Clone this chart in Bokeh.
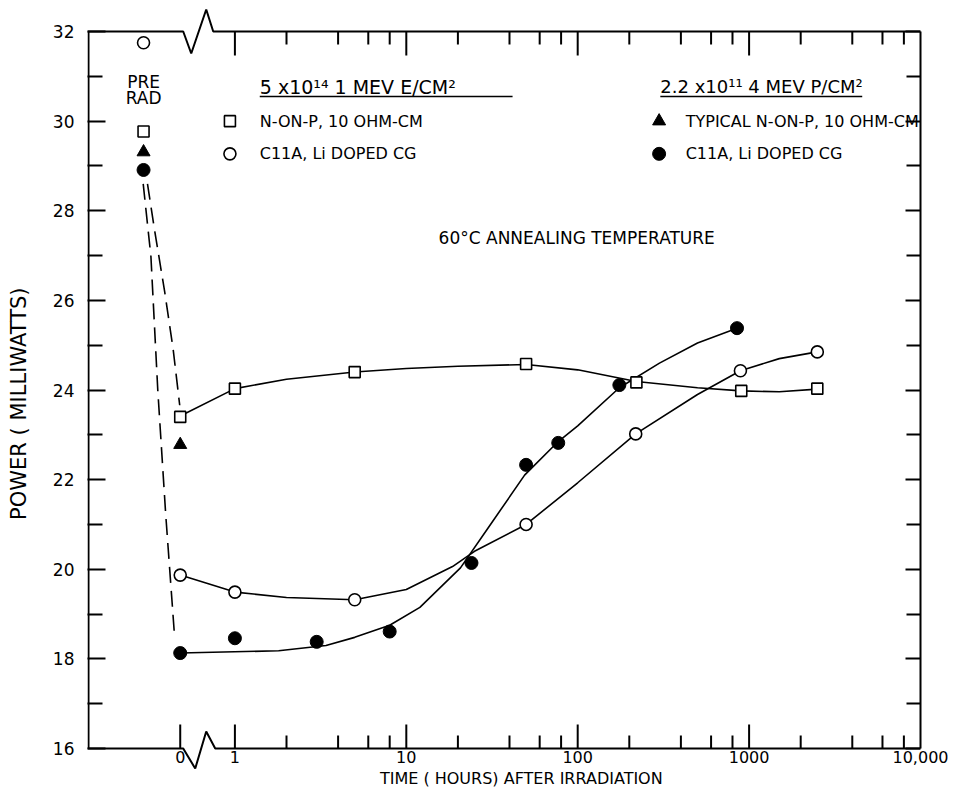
import math
from bokeh.plotting import figure
from bokeh.models import Range1d, FixedTicker, LinearAxis, AllLabels
from bokeh.core.properties import value
from bokeh.embed import file_html
from bokeh.resources import INLINE

# ---------------- data ----------------
# 5x10^14 1 MeV e/cm^2 : N-on-P, 10 ohm-cm (open squares)
sq_time = [0, 1, 5, 50, 220, 900, 2500]
sq_power = [23.40, 24.03, 24.40, 24.58, 24.17, 23.98, 24.03]
sq_pre = 29.77
# 5x10^14 1 MeV e/cm^2 : C11A, Li doped CG (open circles)
oc_time = [0, 1, 5, 50, 218, 890, 2500]
oc_power = [19.87, 19.49, 19.32, 21.00, 23.02, 24.43, 24.85]
oc_pre = 31.75
# 2.2x10^11 4 MeV p/cm^2 : typical N-on-P (filled triangle)
tr_time = [0]
tr_power = [22.78]
tr_pre = 29.31
# 2.2x10^11 4 MeV p/cm^2 : C11A, Li doped CG (filled circles)
fc_time = [0, 1, 3, 8, 24, 50, 77, 175, 850]
fc_power = [18.13, 18.46, 18.38, 18.61, 20.14, 22.33, 22.82, 24.11, 25.38]
fc_pre = 28.91

# hand-drawn fitted curves (time h, power mW)
sq_curve_t = [0, 1, 2, 5, 10, 20, 50, 100, 220, 500, 900, 1500, 2500]
sq_curve_p = [23.42, 24.03, 24.24, 24.40, 24.48, 24.53, 24.57, 24.45, 24.19, 24.05, 23.98, 23.96, 24.02]
oc_curve_t = [0, 1, 2, 5, 10, 18.6, 25, 50, 100, 218, 500, 890, 1500, 2500]
oc_curve_p = [19.87, 19.49, 19.37, 19.32, 19.55, 20.06, 20.40, 21.00, 21.93, 23.02, 23.90, 24.43, 24.70, 24.85]
fc_curve_t = [0, 1.8, 3.4, 5, 8, 12, 20.7, 30, 49, 77, 100, 175, 300, 500, 850]
fc_curve_p = [18.13, 18.18, 18.30, 18.48, 18.75, 19.15, 20.03, 20.92, 22.10, 22.85, 23.20, 24.05, 24.60, 25.05, 25.38]

# dashed pre-rad -> 0 h traces (axis position, power)
dash_a_x = [-0.51, -0.47, -0.41, -0.36, -0.322]
dash_a_y = [28.60, 27.60, 26.20, 24.90, 23.66]
dash_b_x = [-0.535, -0.49, -0.45, -0.404, -0.352]
dash_b_y = [28.60, 26.98, 24.00, 21.24, 18.50]

# axis ticks
y_major = [16, 18, 20, 22, 24, 26, 28, 30, 32]
y_minor = [17, 19, 21, 23, 25, 27, 29, 31]
x_decades = [1, 10, 100, 1000]
x_minor = [2, 4, 6, 8, 20, 40, 60, 80, 200, 400, 600, 800, 2000, 4000, 6000, 8000]
x_labels = ["0", "1", "10", "100", "1000", "10,000"]

# ---------------- layout ----------------
ZERO_POS = -0.319     # axis position of t = 0 (left of break)
PRE_POS = -0.533      # axis position of the pre-rad points
FRAME_L, FRAME_R = 87, 920          # px in figure
VIS_T, VIS_B = 31, 748              # px in figure (32 mW and 16 mW)
EXT_T, EXT_B = 6, 787               # bokeh frame top / bottom px
W, H = 950, 787
UNIT = (VIS_B - VIS_T) / 16.0       # px per mW
XL, XR = -0.86, 4.0
DEC = (FRAME_R - FRAME_L) / (XR - XL)
YT = 32 + (VIS_T - EXT_T) / UNIT
YB = 16 - (EXT_B - VIS_B) / UNIT
FONT = value("DejaVu Sans")
INK = "black"


def xpos(t):
    return ZERO_POS if t == 0 else math.log10(t)


def dx(px):
    return px / DEC


def dy(px):
    return px / UNIT


p = figure(width=W, height=H, x_range=Range1d(XL, XR), y_range=Range1d(YB, YT),
           output_backend="svg", toolbar_location=None,
           min_border_left=FRAME_L, min_border_right=W - FRAME_R,
           min_border_top=EXT_T, min_border_bottom=H - EXT_B)
p.grid.visible = False
p.outline_line_color = None
p.background_fill_color = "white"

# left axis: ticks + labels + title (frame line drawn separately)
ya = p.yaxis[0]
ya.ticker = FixedTicker(ticks=y_major, minor_ticks=y_minor)
ya.bounds = (15.34, 32)
ya.axis_line_color = None
ya.major_tick_in = 18
ya.major_tick_out = 0
ya.minor_tick_in = 15
ya.minor_tick_out = 0
ya.major_tick_line_width = 2
ya.minor_tick_line_width = 2
ya.major_tick_line_color = INK
ya.minor_tick_line_color = INK
ya.major_label_standoff = 13
ya.major_label_text_font = "DejaVu Sans"
ya.major_label_text_font_size = "17px"
ya.major_label_text_color = INK
ya.axis_label = "POWER   ( MILLIWATTS)"
ya.axis_label_text_font = "DejaVu Sans"
ya.axis_label_text_font_size = "21px"
ya.axis_label_text_font_style = "normal"
ya.axis_label_text_color = INK
ya.axis_label_standoff = 19

ra = LinearAxis(ticker=FixedTicker(ticks=y_major, minor_ticks=y_minor), bounds=(16, 32),
                axis_line_width=2, axis_line_color=INK,
                major_tick_in=15, major_tick_out=0, minor_tick_in=14, minor_tick_out=0,
                major_tick_line_width=2, minor_tick_line_width=2,
                major_tick_line_color=INK, minor_tick_line_color=INK,
                major_label_text_font_size="1px", major_label_text_color=None,
                major_label_standoff=0)
p.add_layout(ra, "right")

# bottom axis: tick labels only (frame and ticks drawn below)
label_pos = [ZERO_POS] + [math.log10(v) for v in x_decades] + [4.0]
xa = p.xaxis[0]
xa.ticker = FixedTicker(ticks=label_pos, minor_ticks=[])
xa.major_label_overrides = {pos: lab for pos, lab in zip(label_pos, x_labels)}
xa.major_label_policy = AllLabels()
xa.axis_line_color = None
xa.major_tick_line_color = None
xa.minor_tick_line_color = None
xa.major_tick_in = 0
xa.major_tick_out = 0
xa.major_label_standoff = -(EXT_B - VIS_B) + 2
xa.major_label_text_font = "DejaVu Sans"
xa.major_label_text_font_size = "16px"
xa.major_label_text_color = INK

# frame: left line, top/bottom lines with broken-axis zigzags
p.line([XL + dx(1), XL + dx(1)], [16, 32], line_color=INK, line_width=2)
bz_x = [XL, ZERO_POS + dx(3), ZERO_POS + dx(15), ZERO_POS + dx(26), ZERO_POS + dx(35), XR]
bz_y = [16, 16, 16 - dy(20), 16 + dy(17), 16, 16]
tz_x = [XL, ZERO_POS + dx(3), ZERO_POS + dx(11), ZERO_POS + dx(26), ZERO_POS + dx(33), XR]
tz_y = [32, 32, 32 - dy(22), 32 + dy(22), 32, 32]
p.line(bz_x, bz_y, line_color=INK, line_width=2)
p.line(tz_x, tz_y, line_color=INK, line_width=2)

# x ticks drawn inward on bottom and top
maj = [math.log10(v) for v in x_decades]
mnr = [math.log10(v) for v in x_minor]
LMAJ, LMIN = dy(24), dy(13)
p.segment(x0=[ZERO_POS] + maj, x1=[ZERO_POS] + maj, y0=16, y1=16 + LMAJ, line_color=INK, line_width=2)
p.segment(x0=mnr, x1=mnr, y0=16, y1=16 + LMIN, line_color=INK, line_width=2)
p.segment(x0=maj, x1=maj, y0=32, y1=32 - LMAJ, line_color=INK, line_width=2)
p.segment(x0=mnr, x1=mnr, y0=32, y1=32 - LMIN, line_color=INK, line_width=2)

# x-axis title (strip below the tick labels)
p.text(x=[1.76], y=[16 - dy(29.5)], text=["TIME   ( HOURS)   AFTER   IRRADIATION"], text_font=FONT,
       text_font_size="16px", text_align="center", text_baseline="middle", text_color=INK)

# curves
p.line([xpos(t) for t in sq_curve_t], sq_curve_p, line_color=INK, line_width=1.6)
p.line([xpos(t) for t in oc_curve_t], oc_curve_p, line_color=INK, line_width=1.6)
p.line([xpos(t) for t in fc_curve_t], fc_curve_p, line_color=INK, line_width=1.6)
p.line(dash_a_x, dash_a_y, line_color=INK, line_width=1.6, line_dash="16 8")
p.line(dash_b_x, dash_b_y, line_color=INK, line_width=1.6, line_dash="16 8")


# points
def pts(times, vals, pre):
    return [PRE_POS] + [xpos(t) for t in times], [pre] + list(vals)


x, y = pts(sq_time, sq_power, sq_pre)
p.scatter(x, y, marker="square", size=11, fill_color="white", line_color=INK, line_width=1.6)
x, y = pts(oc_time, oc_power, oc_pre)
p.scatter(x, y, marker="circle", size=12, fill_color="white", line_color=INK, line_width=1.6)
x, y = pts(tr_time, tr_power, tr_pre)
p.scatter(x, y, marker="triangle", size=13, fill_color=INK, line_color=INK, line_width=1)
x, y = pts(fc_time, fc_power, fc_pre)
p.scatter(x, y, marker="circle", size=13, fill_color=INK, line_color=INK, line_width=1)

# legend blocks
LX_M, LX_T, LX_H = -0.029, 0.145, 0.145
RX_M, RX_T, RX_H = 2.475, 2.63, 2.482
HY, UY, R1, R2 = 30.77, 30.55, 30.0, 29.27
p.scatter([LX_M], [R1], marker="square", size=11, fill_color="white", line_color=INK, line_width=1.6)
p.scatter([LX_M], [R2], marker="circle", size=12, fill_color="white", line_color=INK, line_width=1.6)
p.scatter([RX_M], [R1], marker="triangle", size=13, fill_color=INK, line_color=INK)
p.scatter([RX_M], [R2], marker="circle", size=13, fill_color=INK, line_color=INK)
p.text(x=[LX_H], y=[HY], text=["5 x10\u00b9\u2074    1    MEV    E/CM\u00b2"],
       text_font=FONT, text_font_size="19px", text_align="left", text_baseline="middle",
       text_color=INK)
p.text(x=[RX_H], y=[HY], text=["2.2  x10\u00b9\u00b9  4 MEV  P/CM\u00b2"],
       text_font=FONT, text_font_size="18px", text_align="left", text_baseline="middle",
       text_color=INK)
p.text(x=[LX_T, LX_T, RX_T, RX_T], y=[R1, R2, R1, R2],
       text=["N-ON-P, 10 OHM-CM", "C11A, Li DOPED  CG",
             "TYPICAL  N-ON-P, 10 OHM-CM", "C11A, Li DOPED  CG"],
       text_font=FONT, text_font_size="16px", text_align="left", text_baseline="middle",
       text_color=INK)
p.segment(x0=[LX_H, RX_H], x1=[1.62, 3.66], y0=UY, y1=UY, line_color=INK, line_width=1.5)

p.text(x=[2.01], y=[27.4], text=["60\u00b0C ANNEALING  TEMPERATURE"], text_font=FONT,
       text_font_size="17px", text_align="center", text_baseline="middle", text_color=INK)
p.text(x=[PRE_POS, PRE_POS], y=[30.88, 30.52], text=["PRE", "RAD"], text_font=FONT,
       text_font_size="17px", text_align="center", text_baseline="middle", text_color=INK)

open("out.html", "w").write(file_html(p, INLINE))
